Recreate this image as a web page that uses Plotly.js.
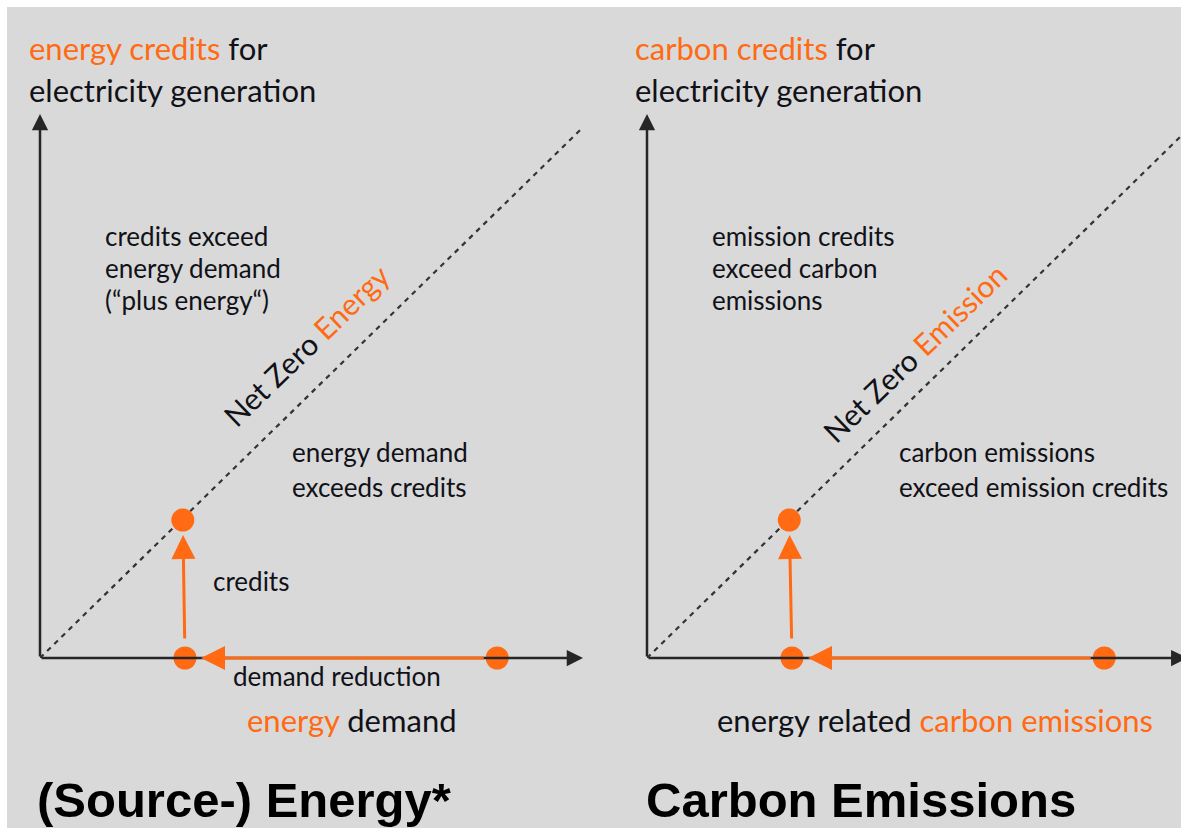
<!DOCTYPE html>
<html>
<head>
<meta charset="utf-8">
<script src="https://cdn.plot.ly/plotly-3.0.1.min.js"></script>
<style>html,body{margin:0;padding:0;background:#fff;}#chart{width:1181px;height:828px;}</style>
</head>
<body>
<div id="chart"></div>
<script>
// ---- data (conceptual units) ----
const netZeroX = [0, 10];
const netZeroY = [0, 10];
// left panel: (Source-) Energy
const energyPointsX = [2.63, 2.67, 8.42];   // credits point, reduced demand, initial demand
const energyPointsY = [2.6, 0, 0];
// right panel: Carbon Emissions
const carbonPointsX = [2.62, 2.67, 8.42];
const carbonPointsY = [2.6, 0, 0];
const axisTipX = [10, 9.95];   // x-axis arrow tips per panel
const axisTipY = 10.25;

const ORANGE = '#ff6a13';
const TXT = '#111118';
const W = 1181, H = 828;
const px = v => v / W;
const py = v => 1 - v / H;

const BODY = 26, TITLE = 31, ROT = 30, BIG = 49;
const FONT = 'Lato, "Noto Sans", sans-serif';
const o = s => '<span style="color:' + ORANGE + '">' + s + '</span>';

function label(x, y, text, size, extra) {
  return Object.assign({
    xref: 'paper', yref: 'paper', x: px(x - 3), y: py(y), text: text,
    showarrow: false, xanchor: 'left', yanchor: 'middle',
    font: {family: FONT, size: size, color: TXT}
  }, extra || {});
}
const bigFont = {family: '"Liberation Sans", Arial, sans-serif', size: BIG, color: '#000', weight: 'bold'};

const annotations = [
  // left panel texts
  label(30, 48, o('energy credits') + ' for', TITLE),
  label(30, 90, 'electricity generation', TITLE),
  label(106, 236, 'credits exceed', BODY),
  label(106, 268, 'energy demand', BODY),
  label(106, 300, '(“plus energy“)', BODY),
  label(293, 452, 'energy demand', BODY),
  label(293, 487, 'exceeds credits', BODY),
  label(214, 581, 'credits', BODY),
  label(234, 676, 'demand reduction', BODY),
  label(248, 720, o('energy') + ' demand', TITLE),
  label(309, 345, 'Net Zero ' + o('Energy'), ROT, {xanchor: 'center', textangle: -44}),
  label(38, 800, '(Source-) Energy*', BIG, {font: bigFont}),
  // right panel texts
  label(636, 48, o('carbon credits') + ' for', TITLE),
  label(636, 90, 'electricity generation', TITLE),
  label(713, 236, 'emission credits', BODY),
  label(713, 268, 'exceed carbon', BODY),
  label(713, 300, 'emissions', BODY),
  label(900, 452, 'carbon emissions', BODY),
  label(900, 487, 'exceed emission credits', BODY),
  label(718, 720, 'energy related ' + o('carbon emissions'), TITLE),
  label(918, 352, 'Net Zero ' + o('Emission'), ROT, {xanchor: 'center', textangle: -44}),
  label(647, 800, 'Carbon Emissions', BIG, {font: bigFont})
];

function arrow(xs, ax, ay, hx, hy, color, width, size, standoff, startstandoff) {
  return {
    xref: 'x' + xs, yref: 'y' + xs, axref: 'x' + xs, ayref: 'y' + xs,
    x: hx, y: hy, ax: ax, ay: ay, text: '', showarrow: true,
    arrowhead: 2, arrowcolor: color, arrowwidth: width, arrowsize: size,
    standoff: standoff || 0, startstandoff: startstandoff || 0
  };
}

// axis arrows
[['', 0], ['2', 1]].forEach(([s, i]) => {
  annotations.push(arrow(s, 0, 0, 0, axisTipY, '#262626', 2.5, 1.3));
  annotations.push(arrow(s, 0, 0, axisTipX[i], 0, '#262626', 2.5, 1.3));
});
// orange arrows
[['', energyPointsX, energyPointsY], ['2', carbonPointsX, carbonPointsY]].forEach(([s, X, Y]) => {
  annotations.push(arrow(s, X[1], Y[1], X[0], Y[0], ORANGE, 3, 1.6, 15, 18));
  annotations.push(arrow(s, X[2], Y[2], X[1], Y[1], ORANGE, 3, 1.6, 16, 12));
});

const traces = [
  {x: netZeroX, y: netZeroY, xaxis: 'x', yaxis: 'y', mode: 'lines',
   line: {color: '#333', width: 2.2, dash: '5px,5px'}, hoverinfo: 'skip'},
  {x: netZeroX, y: netZeroY, xaxis: 'x2', yaxis: 'y2', mode: 'lines',
   line: {color: '#333', width: 2.2, dash: '5px,5px'}, hoverinfo: 'skip'},
  {x: energyPointsX, y: energyPointsY, xaxis: 'x', yaxis: 'y', mode: 'markers',
   marker: {color: ORANGE, size: 23}, cliponaxis: false},
  {x: carbonPointsX, y: carbonPointsY, xaxis: 'x2', yaxis: 'y2', mode: 'markers',
   marker: {color: ORANGE, size: 23}, cliponaxis: false}
];

const ax = (domain, range) => ({domain: domain, range: range, visible: false,
  showgrid: false, zeroline: false, fixedrange: true});

const layout = {
  width: W, height: H,
  margin: {l: 0, r: 0, t: 0, b: 0},
  paper_bgcolor: '#ffffff', plot_bgcolor: 'rgba(0,0,0,0)',
  showlegend: false,
  xaxis: ax([px(40), px(583)], [0, 10]),
  yaxis: ax([py(658), py(114)], [0, 10.25]),
  xaxis2: ax([px(647), 1], [0, 534 / 54.3]),
  yaxis2: ax([py(658), py(114)], [0, 10.25]),
  shapes: [{type: 'rect', xref: 'paper', yref: 'paper', x0: px(7), x1: 1, y0: 0, y1: py(7),
    fillcolor: '#d9d9d9', line: {width: 0}, layer: 'below'}],
  annotations: annotations
};

Plotly.newPlot('chart', traces, layout, {staticPlot: true, displayModeBar: false});
</script>
</body>
</html>
